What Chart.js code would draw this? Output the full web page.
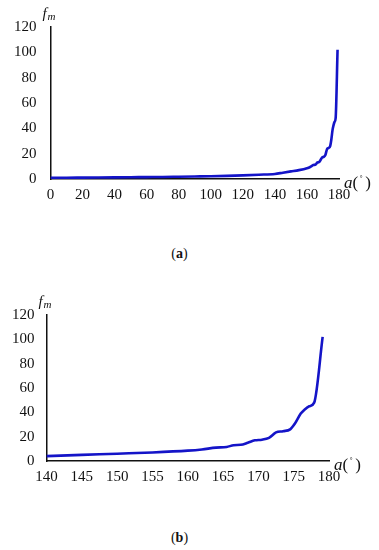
<!DOCTYPE html>
<html>
<head>
<meta charset="utf-8">
<script src="https://cdn.jsdelivr.net/npm/chart.js@4.4.0/dist/chart.umd.min.js"></script>
<style>
  body { margin: 0; background: #fff; width: 379px; height: 550px; position: relative; overflow: hidden; }
  .box { position: absolute; left: 0; width: 379px; }
  .cap { position: absolute; width: 379px; left: 0; text-align: center; font: 14px "Liberation Serif", serif; color: #111; }
  .cap b { font-weight: bold; }
</style>
</head>
<body>
<div class="box" style="top:0px;height:219px"><canvas id="chartA"></canvas></div>
<div class="cap" style="top:246px;left:-10px">(<b>a</b>)</div>
<div class="box" style="top:285px;height:216px"><canvas id="chartB"></canvas></div>
<div class="cap" style="top:530px;left:-10px">(<b>b</b>)</div>
<script>
// angle a (degrees) and magnification factor fm
const angles = [0, 10, 20, 30, 40, 50, 60, 70, 80, 90, 100, 110, 120, 130,
  140, 145, 150, 155, 160, 162, 164, 165.5, 166.5, 167.5, 168.5, 169.5, 170.5, 171.5,
  172.5, 173.5, 174.5, 175.2, 176, 176.5, 177.2, 177.9, 179.1]
const fm = [1.0, 1.0, 1.1, 1.2, 1.3, 1.4, 1.5, 1.6, 1.8, 2.0, 2.2, 2.5, 2.9, 3.4,
  4, 5, 6, 7, 8.5, 9.5, 11, 11.5, 13, 13.3, 15, 17, 17.5, 19,
  23.5, 24.5, 26, 31, 39, 42, 45, 48, 102]

const ticksA = [0, 20, 40, 60, 80, 100, 120, 140, 160, 180]
const ticksB = [140, 145, 150, 155, 160, 165, 170, 175, 180]
const yTicks = [0, 20, 40, 60, 80, 100, 120]

const serif = '"Liberation Serif", "DejaVu Serif", serif'

// axis titles: italic f with subscript m on top, a(°) at the right end
const axisTitles = {
  id: "axisTitles",
  afterDraw(chart) {
    const { ctx, chartArea } = chart
    ctx.save()
    ctx.fillStyle = "#111"
    ctx.textBaseline = "alphabetic"
    ctx.font = "italic 15px " + serif
    ctx.fillText("f", chartArea.left - 8, chartArea.top - 9)
    ctx.font = "italic 11px " + serif
    ctx.fillText("m", chartArea.left - 3, chartArea.top - 7)

    let x = chartArea.right + 5
    const y = chartArea.bottom + 9
    ctx.font = "italic 17px " + serif
    ctx.fillText("a", x, y)
    x += ctx.measureText("a").width
    ctx.font = "17px " + serif
    ctx.fillText("(", x, y)
    x += ctx.measureText("(").width
    ctx.font = "7px " + serif
    ctx.fillText("°", x + 1.5, y - 8)
    x += 7
    ctx.font = "17px " + serif
    ctx.fillText(")", x, y)
    ctx.restore()
  },
}

const makeChart = (canvas, xMin, xMax, xTicks, pad, fontSize, yPad) => {
  const points = angles.map((a, i) => ({ x: a, y: fm[i] }))
    .filter((p) => p.x >= xMin)
  return new Chart(canvas.getContext("2d"), {
    type: "line",
    data: {
      datasets: [{
        data: points,
        borderColor: "#1414c8",
        borderWidth: 2.6,
        pointRadius: 0,
        cubicInterpolationMode: "monotone",
        fill: false,
      }],
    },
    options: {
      responsive: true,
      maintainAspectRatio: false,
      animation: false,
      layout: { padding: pad },
      plugins: { legend: { display: false }, tooltip: { enabled: false } },
      scales: {
        x: {
          type: "linear",
          min: xMin,
          max: xMax,
          afterBuildTicks: (axis) => { axis.ticks = xTicks.map((v) => ({ value: v })) },
          grid: { display: false, drawTicks: false },
          border: { display: true, color: "#111", width: 1.5 },
          ticks: { color: "#111", font: { family: serif, size: fontSize }, padding: 7, maxRotation: 0 },
        },
        y: {
          min: 0,
          max: 120,
          afterBuildTicks: (axis) => { axis.ticks = yTicks.map((v) => ({ value: v })) },
          grid: { display: false, drawTicks: false },
          border: { display: true, color: "#111", width: 1.5 },
          ticks: { color: "#111", font: { family: serif, size: fontSize }, padding: yPad },
        },
      },
    },
    plugins: [axisTitles],
  })
}

makeChart(document.getElementById("chartA"), 0, 180, ticksA,
  { left: 0, right: 40, top: 27, bottom: 8 }, 15, 14)
makeChart(document.getElementById("chartB"), 140, 180, ticksB,
  { left: 0, right: 50, top: 30, bottom: 8 }, 15, 12)
</script>
</body>
</html>
